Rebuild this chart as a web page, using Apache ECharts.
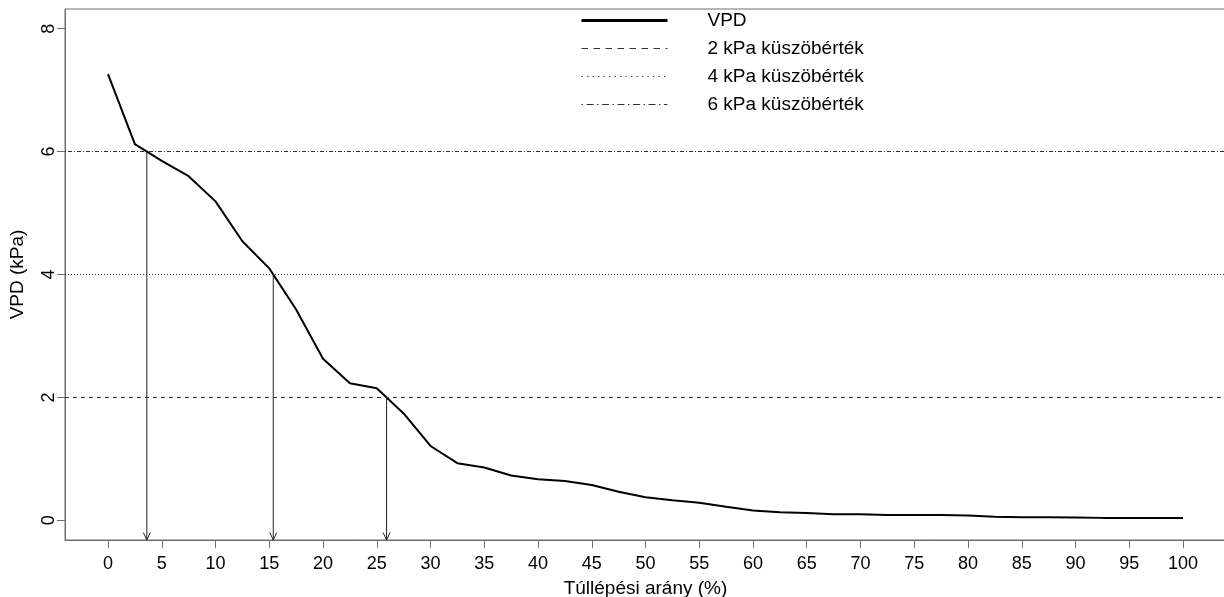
<!DOCTYPE html>
<html>
<head>
<meta charset="utf-8">
<script src="https://cdn.jsdelivr.net/npm/echarts@6/dist/echarts.min.js"></script>
<style>
  html, body { margin: 0; padding: 0; background: #ffffff; }
  #chart { width: 1224px; height: 597px; }
</style>
</head>
<body>
<div id="chart"></div>
<script>
// Exceedance ratio (%) and the VPD value exceeded at that ratio (kPa)
const exceedance = [0, 2.5, 5, 7.5, 10, 12.5, 15, 17.5, 20, 22.5, 25, 27.5, 30, 32.5, 35, 37.5, 40,
  42.5, 45, 47.5, 50, 52.5, 55, 57.5, 60, 62.5, 65, 67.5, 70, 72.5, 75, 77.5, 80, 82.5, 85, 87.5,
  90, 92.5, 95, 97.5, 100];
const vpd = [7.26, 6.12, 5.85, 5.60, 5.19, 4.54, 4.10, 3.43, 2.63, 2.23, 2.15, 1.74, 1.21, 0.93, 0.86,
  0.73, 0.67, 0.64, 0.575, 0.465, 0.375, 0.325, 0.285, 0.22, 0.16, 0.13, 0.12, 0.10, 0.10, 0.085,
  0.085, 0.085, 0.08, 0.06, 0.05, 0.05, 0.045, 0.04, 0.04, 0.04, 0.04];

// Threshold levels (kPa) and their legend labels
const thresholds = [2, 4, 6];
const thresholdNames = ['2 kPa küszöbérték', '4 kPa küszöbérték', '6 kPa küszöbérték'];
const seriesName = 'VPD';

// Tick positions
const xTicks = [0, 5, 10, 15, 20, 25, 30, 35, 40, 45, 50, 55, 60, 65, 70, 75, 80, 85, 90, 95, 100];
const yTicks = [0, 2, 4, 6, 8];

// Axis limits (data range padded by 4 % on each side)
const X_MIN = -4, X_MAX = 104;
const Y_MIN = -0.32, Y_MAX = 8.32;

const FONT = "'Liberation Sans', Arial, sans-serif";
const AXIS_GREY = '#6e6e6e';

// Exceedance ratio at which the VPD curve falls through a given level
function crossing(level) {
  for (let i = 0; i < vpd.length - 1; i++) {
    if (vpd[i] >= level && vpd[i + 1] < level) {
      const f = (vpd[i] - level) / (vpd[i] - vpd[i + 1]);
      return exceedance[i] + f * (exceedance[i + 1] - exceedance[i]);
    }
  }
  return null;
}

const curve = exceedance.map((x, i) => [x, vpd[i]]);
const arrows = thresholds.map(t => [crossing(t), t]);

// Line patterns: plot lines and (longer) legend samples
const plotDash = { 2: [4, 4], 4: [1, 2], 6: [1, 2, 4, 2] };
const legendDash = { 2: [6.5, 5.5], 4: [1.3, 4.2], 6: [1.5, 3.5, 7, 3.5] };

const thresholdSeries = thresholds.map((t, k) => ({
  name: thresholdNames[k],
  type: 'line',
  data: [],
  symbol: 'none',
  lineStyle: { color: '#333', width: 1, type: plotDash[t] },
  itemStyle: { color: '#333' },
  markLine: {
    silent: true,
    symbol: ['none', 'none'],
    label: { show: false },
    lineStyle: { color: '#333', width: 1, type: plotDash[t] },
    data: [{ yAxis: t }]
  },
  z: 2
}));

const chart = echarts.init(document.getElementById('chart'), null, { renderer: 'canvas' });

chart.setOption({
  animation: false,
  backgroundColor: '#ffffff',
  textStyle: { fontFamily: FONT, color: '#000' },
  grid: {
    left: 65, right: -2, top: 9, bottom: 57,
    outerBoundsMode: 'none',
    containLabel: false,
    show: true, borderColor: AXIS_GREY, borderWidth: 1, backgroundColor: 'transparent'
  },
  legend: {
    orient: 'vertical',
    left: 580, top: 11,
    padding: 0,
    itemWidth: 86, itemHeight: 14, itemGap: 9,
    selectedMode: false,
    textStyle: { fontFamily: FONT, fontSize: 19, color: '#000', padding: [0, 0, 0, 35] },
    data: [
      { name: seriesName, itemStyle: { opacity: 0 }, lineStyle: { width: 3, color: '#000', type: 'solid' } }
    ].concat(thresholds.map((t, k) => ({
      name: thresholdNames[k],
      itemStyle: { opacity: 0 },
      lineStyle: { width: 1, color: '#333', type: legendDash[t] }
    })))
  },
  xAxis: {
    type: 'value',
    min: X_MIN, max: X_MAX,
    name: 'Túllépési arány (%)',
    nameLocation: 'middle',
    nameGap: 39,
    nameTextStyle: { fontFamily: FONT, fontSize: 19, color: '#000' },
    axisLine: { show: true, onZero: false, lineStyle: { color: AXIS_GREY, width: 1 } },
    axisTick: { show: true, inside: false, length: 8, customValues: xTicks,
      lineStyle: { color: AXIS_GREY, width: 1 } },
    axisLabel: { customValues: xTicks, fontFamily: FONT, fontSize: 18, color: '#000', margin: 15 },
    splitLine: { show: false }
  },
  yAxis: {
    type: 'value',
    min: Y_MIN, max: Y_MAX,
    name: 'VPD (kPa)',
    nameLocation: 'middle',
    nameGap: 38,
    nameRotate: 90,
    nameTextStyle: { fontFamily: FONT, fontSize: 19, color: '#000' },
    axisLine: { show: true, onZero: false, lineStyle: { color: AXIS_GREY, width: 1 } },
    axisTick: { show: true, inside: false, length: 8, customValues: yTicks,
      lineStyle: { color: AXIS_GREY, width: 1 } },
    axisLabel: { customValues: yTicks, rotate: 90, fontFamily: FONT, fontSize: 18, color: '#000', margin: 7 },
    splitLine: { show: false }
  },
  series: [
    {
      name: seriesName,
      type: 'line',
      data: curve,
      symbol: 'none',
      lineStyle: { color: '#000', width: 2 },
      itemStyle: { color: '#000' },
      z: 3
    }
  ].concat(thresholdSeries).concat([
    {
      name: 'arrows',
      type: 'custom',
      data: arrows,
      clip: false,
      silent: true,
      z: 4,
      encode: { x: 0, y: 1 },
      renderItem: function (params, api) {
        const top = api.coord([api.value(0), api.value(1)]);
        const bottom = api.coord([api.value(0), Y_MIN]);
        const bx = bottom[0], by = bottom[1];
        return {
          type: 'group',
          children: [
            { type: 'line', shape: { x1: top[0], y1: top[1], x2: bx, y2: by },
              style: { stroke: '#222', lineWidth: 1 } },
            { type: 'polyline', shape: { points: [[bx - 3.5, by - 7.5], [bx, by], [bx + 3.5, by - 7.5]] },
              style: { stroke: '#222', fill: null, lineWidth: 1 } }
          ]
        };
      }
    }
  ])
});
</script>
</body>
</html>
